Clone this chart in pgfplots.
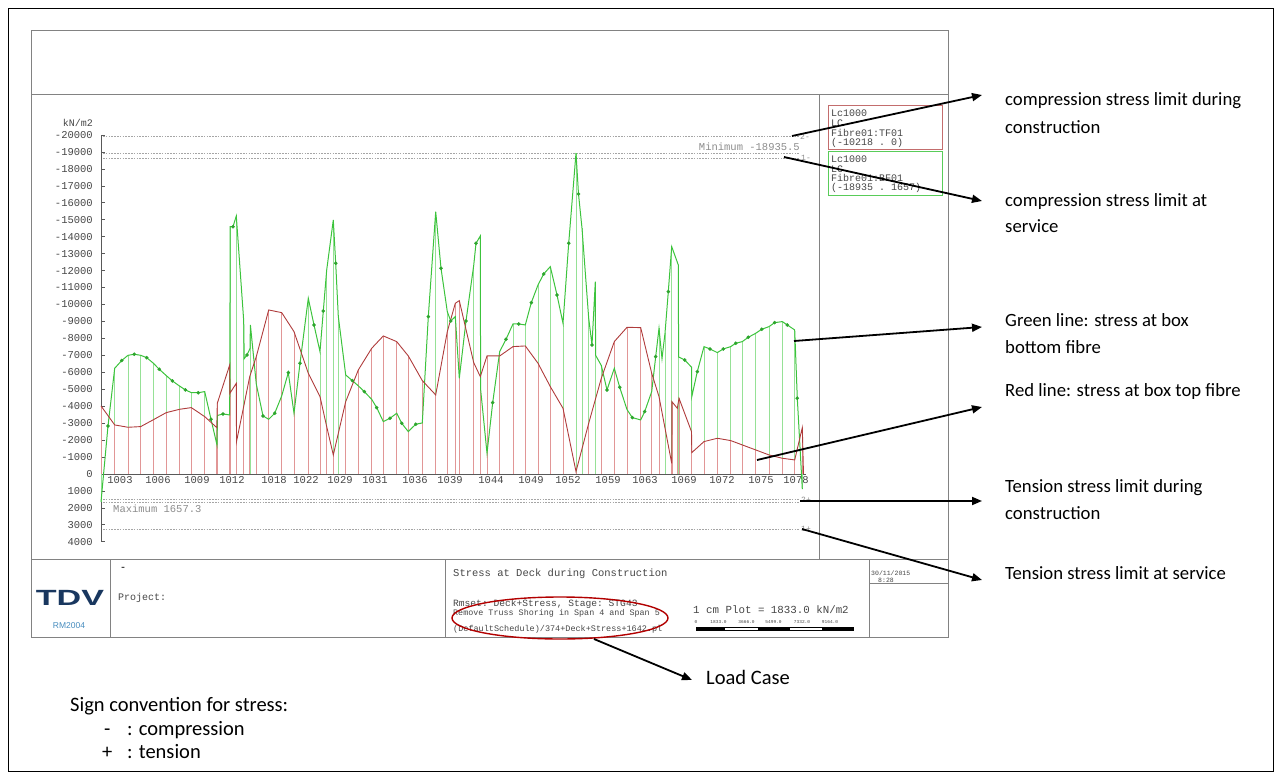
\documentclass[border=0pt]{standalone}
\usepackage{fontspec}
\setmainfont{Carlito}
\setmonofont{Liberation Mono}
\newfontfamily\sansf{Liberation Sans}
\usepackage{pgfplots}
\pgfplotsset{compat=1.18}
\usepackage{pgfplotstable}
\usetikzlibrary{arrows.meta}

\definecolor{gline}{RGB}{60,195,60}
\definecolor{gstem}{RGB}{150,225,150}
\definecolor{gdot}{RGB}{45,165,45}
\definecolor{rline}{RGB}{175,60,60}
\definecolor{rstem}{RGB}{225,150,150}
\definecolor{framec}{RGB}{130,130,130}
\definecolor{limitc}{RGB}{165,165,165}
\definecolor{tdvblue}{RGB}{25,55,95}
\definecolor{rmblue}{RGB}{70,140,190}
\definecolor{txt}{RGB}{70,70,70}

\newcommand{\mono}[1]{\fontsize{#1}{#1}\selectfont\ttfamily}
\newcommand{\ann}[1]{\fontsize{#1}{#1}\selectfont\rmfamily}

\pgfplotstableread{
x v d
101 1657 0
108 -2830 1
114.7 -6235 0
121.7 -6690 1
128 -7000 0
134.3 -7060 1
140.7 -7000 0
146.7 -6860 1
153 -6550 0
159.3 -6175 1
166.3 -5800 0
172.3 -5490 1
179.7 -5180 0
185.3 -4960 1
191.3 -4800 0
198.3 -4790 1
204.7 -4860 0
211 -3225 1
217 -1711 0
217.5 -3450 2
223 -3540 1
229.7 -3480 2
230.2 -14590 0
233 -14590 1
236.3 -15222 0
243.7 -9046 0
244.2 -6800 2
247 -7021 1
250 -7400 2
250.4 -8791 0
256.3 -5300 0
263 -3422 1
268.7 -3225 0
274.7 -3580 1
281.7 -4600 0
288.3 -5979 1
294 -3580 0
300 -6530 1
308.3 -10364 0
314 -8791 1
320 -7218 0
323.3 -9617 1
326.7 -12036 0
333.3 -14986 0
335.7 -12430 1
338.3 -9300 0
345.7 -5841 0
352.3 -5507 1
358.3 -5200 0
364.3 -4857 1
371.7 -4400 0
376.7 -3913 1
383.3 -3088 0
390 -3284 1
396.7 -3580 0
401.7 -2989 1
408.3 -2498 0
415.7 -2930 1
422.3 -3009 0
428.3 -9282 1
435.7 -15478 0
441 -12135 1
447.3 -9577 0
450.7 -9027 1
455.3 -9282 0
459.3 -5645 0
466 -9027 1
473.7 -12300 0
476 -13610 1
480.3 -14042 0
480.6 -5000 2
487 -1219 0
492.7 -4208 1
499.7 -7218 0
506 -7946 1
513 -8850 0
518.7 -8850 1
525.3 -8791 0
531.3 -10108 1
538 -11151 0
543.7 -11800 1
550.3 -12233 0
557 -10561 1
563 -8889 0
568.7 -13610 1
576 -18936 0
578.5 -16520 1
582 -14500 0
588.7 -9184 0
592 -7611 1
595.3 -11348 0
595.6 -7000 2
601.3 -6400 0
607 -4956 1
614.3 -6235 0
619.7 -5114 1
627 -3800 0
632.3 -3324 1
640.7 -3186 0
644.7 -3678 1
651.7 -4858 0
655.7 -6922 1
659 -8594 0
662 -6800 2
665 -8300 0
668.3 -10758 1
671.7 -13413 0
678.3 -12331 0
678.6 -6900 2
684.7 -6726 1
691.5 -6300 0
691.8 -4563 2
697.3 -6038 1
704 -7513 0
710 -7375 1
717.3 -7160 0
723.3 -7375 1
730.7 -7513 0
735.7 -7710 1
742.3 -7808 0
748.3 -8063 1
755.7 -8299 0
761.7 -8535 1
769 -8693 0
774.7 -8929 1
782.3 -8988 0
787.3 -8791 1
794.7 -8496 0
797.3 -4464 1
802.3 900 0
}\greentab

\pgfplotstableread{
x v
101 -4012
114.7 -2891
128 -2753
140.7 -2793
153 -3186
166.3 -3619
179.7 -3815
191.3 -3913
204.7 -3382
216.8 -2733
217.3 -4169
229.7 -6431
229.9 -4759
236.3 -5349
236.5 -1908
243 -3776
249.7 -5743
256.3 -6922
268.7 -9676
281.7 -9518
294 -8398
308.3 -5939
320 -4563
326.7 -2792
333.3 -1121
345.7 -4267
358.3 -6136
371.7 -7414
383.3 -8142
396.7 -7808
408.3 -6962
422.3 -5507
435.7 -4661
447.3 -8398
455.3 -10070
459.3 -10227
473.7 -6569
480.3 -5743
487 -6962
499.7 -6962
513 -7513
525.3 -7552
538 -6530
550.3 -5153
563 -3874
576 -138
588.7 -2989
601.3 -5645
614.3 -7808
627 -8653
640.7 -8633
651.7 -5940
659 -4563
671.7 -629
671.9 -4267
677.3 -3874
679 -4464
691.5 -2498
691.8 -1259
704 -1908
717.3 -2104
730.7 -1967
742.3 -1711
755.7 -1416
769 -1121
782.3 -924
794.7 -826
802.3 -2733
803.5 0
}\redtab

\begin{document}
\begin{tikzpicture}
\begin{axis}[
  at={(101pt,-135pt)}, anchor=north west,
  scale only axis, width=705pt, height=406.7pt,
  xmin=101, xmax=806, ymin=-20000, ymax=4000,
  y dir=reverse,
  axis y line=left, axis x line=middle,
  axis line style={-, draw=black!65, line width=0.8pt},
  tick align=inside,
  major tick length=4pt,
  ytick={-20000,-19000,...,4000},
  yticklabels={-20000,-19000,-18000,-17000,-16000,-15000,-14000,-13000,-12000,-11000,-10000,-9000,-8000,-7000,-6000,-5000,-4000,-3000,-2000,-1000,0,1000,2000,3000,4000},
  ytick style={draw=black!65, line width=0.6pt},
  yticklabel style={font=\mono{10.5}, text=txt, inner sep=0pt, anchor=east, xshift=-8pt},
  xtick={120,158,197,232,274,306,340,375,415,450,491,531,568,608,645,684,722,761,796},
  xticklabels={1003,1006,1009,1012,1018,1022,1029,1031,1036,1039,1044,1049,1052,1059,1063,1069,1072,1075,1078},
  xtick style={draw=none},
  xticklabel style={font=\mono{10.5}, text=txt, inner sep=0pt, anchor=north, yshift=-2.5pt},
  scaled ticks=false,
  clip=false,
]
\addplot[limitc, line width=0.7pt, dash pattern=on 1.6pt off 1.2pt] coordinates {(103,-19950) (800,-19950)};
\addplot[limitc, line width=0.7pt, dash pattern=on 1.6pt off 1.2pt] coordinates {(103,-18935.5) (800,-18935.5)};
\addplot[limitc, line width=0.7pt, dash pattern=on 1.6pt off 1.2pt] coordinates {(103,-18650) (800,-18650)};
\addplot[limitc, line width=0.7pt, dash pattern=on 1.6pt off 1.2pt] coordinates {(103,1500) (800,1500)};
\addplot[limitc, line width=0.7pt, dash pattern=on 1.6pt off 1.2pt] coordinates {(103,1657.3) (800,1657.3)};
\addplot[limitc, line width=0.7pt, dash pattern=on 1.6pt off 1.2pt] coordinates {(103,3250) (800,3250)};
\addplot[ycomb, gstem, line width=0.7pt, restrict expr to domain={\thisrow{d}}{-0.5:0.5}] table[x=x,y=v] {\greentab};
\addplot[ycomb, rstem, line width=0.7pt] table[x=x,y=v] {\redtab};
\addplot[gline, line width=1pt] table[x=x,y=v] {\greentab};
\addplot[rline, line width=0.9pt] table[x=x,y=v] {\redtab};
\addplot[only marks, mark=*, mark size=1.6pt, gdot, restrict expr to domain={\thisrow{d}}{0.5:1.5}] table[x=x,y=v] {\greentab};
\end{axis}

\begin{scope}[x=1pt,y=-1pt]
\useasboundingbox (0,0) rectangle (1277,776);
\draw[black, line width=0.8pt] (8,8) rectangle (1273,771);
\draw[framec, line width=0.9pt] (31,30) rectangle (948,637);
\draw[framec, line width=0.9pt] (31,94) -- (948,94);
\draw[framec, line width=0.9pt] (31,559) -- (948,559);
\draw[framec, line width=0.9pt] (819,94) -- (819,559);
\draw[framec, line width=0.9pt] (110,559) -- (110,637);
\draw[framec, line width=0.9pt] (445,559) -- (445,637);
\draw[framec, line width=0.9pt] (869,559) -- (869,637);
\draw[framec, line width=0.9pt] (869,583) -- (948,583);
% legend boxes
\draw[rline!75, line width=0.9pt] (828,105) rectangle (942,149);
\draw[gline!85, line width=0.9pt] (828,151) rectangle (942,195);
\begin{scope}[every node/.style={inner sep=0pt, anchor=base west, font=\mono{10}, text=txt}]
\node at (831,116) {Lc1000};
\node at (831,126) {LC};
\node at (831,136) {Fibre01:TF01};
\node at (831,145.5) {(-10218 . 0)};
\node at (831,162.5) {Lc1000};
\node at (831,172.5) {LC};
\node at (831,181.5) {Fibre01:BF01};
\node at (831,190.5) {(-18935 . 1657)};
\node[anchor=base east] at (93,126) {kN/m2};
\node[anchor=base east, text=black!45, font=\mono{10.5}] at (800,150.5) {Minimum  -18935.5};
\node[text=black!45, font=\mono{10.5}] at (113,512.5) {Maximum  1657.3};
\node[text=black!45, font=\mono{8}] at (800,139) {2-};
\node[text=black!45, font=\mono{8}] at (801,160) {1-};
\node[text=black!45, font=\mono{8}] at (801,502) {2+};
\node[text=black!45, font=\mono{8}] at (801,531) {1+};
% title block
\node[font=\bfseries\mono{10}] at (120,570) {-};
\node at (118,600) {Project:};
\node[font=\mono{10.5}] at (453,576.5) {Stress at Deck during Construction};
\node[font=\mono{9.6}] at (453,606.5) {Rmset: Deck+Stress, Stage: STG43};
\node[font=\mono{8.4}] at (453,615.5) {Remove Truss Shoring in Span 4 and Span 5};
\node[font=\mono{8.5}] at (453,631) {(DefaultSchedule)/374+Deck+Stress+1642.pl};
\node[font=\mono{10.8}] at (693,613.5) {1 cm Plot = 1833.0 kN/m2};
\node[font=\mono{6.5}] at (871,575) {30/11/2015};
\node[font=\mono{6.5}] at (878,582) {8:28};
\node[anchor=base, font=\mono{4.5}] at (696,623) {0};
\node[anchor=base, font=\mono{4.5}] at (718.5,623) {1833.0};
\node[anchor=base, font=\mono{4.5}] at (746.5,623) {3666.0};
\node[anchor=base, font=\mono{4.5}] at (773.5,623) {5499.0};
\node[anchor=base, font=\mono{4.5}] at (802,623) {7332.0};
\node[anchor=base, font=\mono{4.5}] at (830,623) {9164.0};
\end{scope}
\draw[black, line width=0.5pt] (696,627.5) rectangle (853,630.5);
\fill[black] (696,627.5) rectangle (725,630.5);
\fill[black] (758,627.5) rectangle (790,630.5);
\fill[black] (822,627.5) rectangle (853,630.5);
% logo
\node[anchor=base, inner sep=0pt, xscale=1.55, font=\sansf\bfseries\fontsize{22}{22}\selectfont, text=tdvblue] at (70,605) {TDV};
\node[anchor=base, inner sep=0pt, font=\sansf\fontsize{8.5}{8.5}\selectfont, text=rmblue] at (69,628) {RM2004};
% ellipse
\draw[red!70!black, line width=1.4pt] (560,618) ellipse [x radius=108pt, y radius=21pt];
% arrows
\tikzset{annarrow/.style={black, line width=1.8pt, -{Triangle[length=10pt,width=8pt]}}}
\draw[annarrow] (792,136) -- (982,95);
\draw[annarrow] (784,157) -- (982,201);
\draw[annarrow] (794,341) -- (982,327);
\draw[annarrow] (757,460) -- (982,407);
\draw[annarrow] (800,501) -- (982,501);
\draw[annarrow] (802,529) -- (982,580);
\draw[annarrow] (594,639) -- (692,680);
% annotation text
\begin{scope}[every node/.style={inner sep=0pt, anchor=base west, font=\ann{18.7}}]
\node at (1005,106) {compression stress limit during};
\node at (1005,133) {construction};
\node at (1005,206) {compression stress limit at};
\node at (1005,232) {service};
\node at (1005,326) {Green line: stress at box};
\node at (1005,353) {bottom fibre};
\node at (1005,396) {Red line: stress at box top fibre};
\node at (1005,492) {Tension stress limit during};
\node at (1005,519) {construction};
\node at (1005,579) {Tension stress limit at service};
\end{scope}
\begin{scope}[every node/.style={inner sep=0pt, anchor=base west, font=\ann{20.5}}]
\node at (706,684) {Load Case};
\node at (70,711) {Sign convention for stress:};
\node at (104,735) {-};
\node at (127,735) {: compression};
\node at (102,758) {+};
\node at (127,758) {: tension};
\end{scope}
\end{scope}
\end{tikzpicture}
\end{document}
